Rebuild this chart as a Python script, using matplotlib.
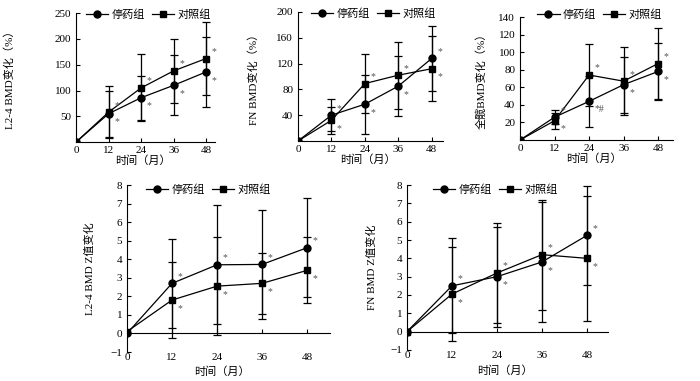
import matplotlib
matplotlib.use("Agg")
import matplotlib.pyplot as plt
import numpy as np

plt.rcParams['font.family'] = ['Liberation Serif', 'Noto Sans CJK SC']
plt.rcParams['axes.unicode_minus'] = True

months = [0, 12, 24, 36, 48]
groups = ['停药组', '对照组']

# L2-4 BMD change (%)
l24_stop = [0, 55, 86, 110, 136]
l24_stop_sd = [0, 45, 43, 58, 68]
l24_ctrl = [0, 58, 105, 138, 162]
l24_ctrl_sd = [0, 50, 65, 62, 71]

# FN BMD change (%)
fn_stop = [0, 40, 57, 85, 128]
fn_stop_sd = [0, 25, 46, 47, 50]
fn_ctrl = [0, 32, 89, 102, 112]
fn_ctrl_sd = [0, 21, 46, 52, 50]

# total hip BMD change (%)
hip_stop = [0, 26, 44, 63, 78]
hip_stop_sd = [0, 8, 29, 32, 32]
hip_ctrl = [0, 22, 74, 67, 87]
hip_ctrl_sd = [0, 9, 35, 39, 40]

# L2-4 BMD Z change
l24z_stop = [0, 2.7, 3.7, 3.72, 4.62]
l24z_stop_sd = [0, 2.4, 3.2, 2.95, 2.68]
l24z_ctrl = [0.1, 1.8, 2.55, 2.7, 3.4]
l24z_ctrl_sd = [0, 2.05, 2.65, 1.65, 1.78]

# FN BMD Z change
fnz_stop = [0, 2.5, 3.0, 3.8, 5.25]
fnz_stop_sd = [0, 2.6, 2.72, 3.3, 2.7]
fnz_ctrl = [0, 2.05, 3.2, 4.2, 4.0]
fnz_ctrl_sd = [0, 2.55, 2.75, 3.0, 3.4]

star = ['', '*', '*', '*', '*']
hip_stop_star = ['', '*', '*#', '*', '*']

fig = plt.figure(figsize=(7, 3.81), dpi=100)


def panel(rect, stop, stop_sd, ctrl, ctrl_sd, ylim, yticks, ylabel, ylab_x,
          xmax, leg_xy, xlab_xy, z=False, stop_star=star, ctrl_star=star):
    ax = fig.add_axes(rect)
    for vals, sd, mk in [(stop, stop_sd, 'o'), (ctrl, ctrl_sd, 's')]:
        ax.errorbar(months[1:], vals[1:], yerr=sd[1:], fmt='none', ecolor='black',
                    elinewidth=0.9, capsize=3, capthick=0.9, zorder=2)
    l1, = ax.plot(months, stop, '-o', color='black', ms=5, lw=0.9, zorder=3)
    l2, = ax.plot(months, ctrl, '-s', color='black', ms=5, lw=0.9, zorder=3)
    # significance marks
    for i in range(1, len(months)):
        up_stop = stop[i] >= ctrl[i]
        for v, lab, up in [(stop[i], stop_star[i], up_stop), (ctrl[i], ctrl_star[i], not up_stop)]:
            ax.annotate(lab, (months[i], v), xytext=(4, 5 if up else -6), textcoords='offset points',
                        ha='left', va='center', fontsize=7, color='#555555')
    ax.set_xlim(0, xmax)
    ax.set_ylim(*ylim)
    ax.set_xticks(months)
    ax.set_yticks(yticks)
    ax.spines['top'].set_visible(False)
    ax.spines['right'].set_visible(False)
    ax.tick_params(direction='in', length=3, labelsize=8, width=0.8)
    if z:
        ax.spines['bottom'].set_position(('data', 0))
        ax.tick_params(axis='x', pad=14)
    else:
        ax.tick_params(axis='x', pad=3)
    ax.set_xlabel('时间（月）', fontsize=8)
    ax.xaxis.set_label_coords(*xlab_xy)
    ax.set_ylabel(ylabel, fontsize=8)
    ax.yaxis.set_label_coords(ylab_x, 0.5)
    ax.legend([l1, l2], groups, loc='center', bbox_to_anchor=leg_xy, ncol=2, frameon=False,
              fontsize=8, handlelength=2, handletextpad=0.3, columnspacing=0.6, borderpad=0)
    return ax


panel([0.1086, 0.627, 0.1986, 0.3386], l24_stop, l24_stop_sd, l24_ctrl, l24_ctrl_sd,
      (0, 250), [50, 100, 150, 200, 250], 'L2-4 BMD变化（%）', -0.44, 51.3, (0.52, 0.99), (0.48, -0.10))
panel([0.4257, 0.63, 0.207, 0.3386], fn_stop, fn_stop_sd, fn_ctrl, fn_ctrl_sd,
      (0, 200), [40, 80, 120, 160, 200], 'FN BMD变化（%）', -0.27, 52, (0.52, 0.985), (0.48, -0.10))
panel([0.7429, 0.6325, 0.2186, 0.3228], hip_stop, hip_stop_sd, hip_ctrl, hip_ctrl_sd,
      (0, 140), [20, 40, 60, 80, 100, 120, 140], '全髋BMD变化（%）', -0.216, 53.2, (0.52, 1.02),
      (0.48, -0.11), stop_star=hip_stop_star)
panel([0.1814, 0.0761, 0.29, 0.4383], l24z_stop, l24z_stop_sd, l24z_ctrl, l24z_ctrl_sd,
      (-1, 8), list(range(-1, 9)), 'L2-4 BMD Z值变化', -0.158, 54.1, (0.40, 0.97), (0.47, -0.085), z=True)
panel([0.5814, 0.0814, 0.287, 0.433], fnz_stop, fnz_stop_sd, fnz_ctrl, fnz_ctrl_sd,
      (-1, 8), list(range(-1, 9)), 'FN BMD Z值变化', -0.149, 53.6, (0.44, 0.97), (0.49, -0.095), z=True)

fig.savefig('out.png', dpi=100)
